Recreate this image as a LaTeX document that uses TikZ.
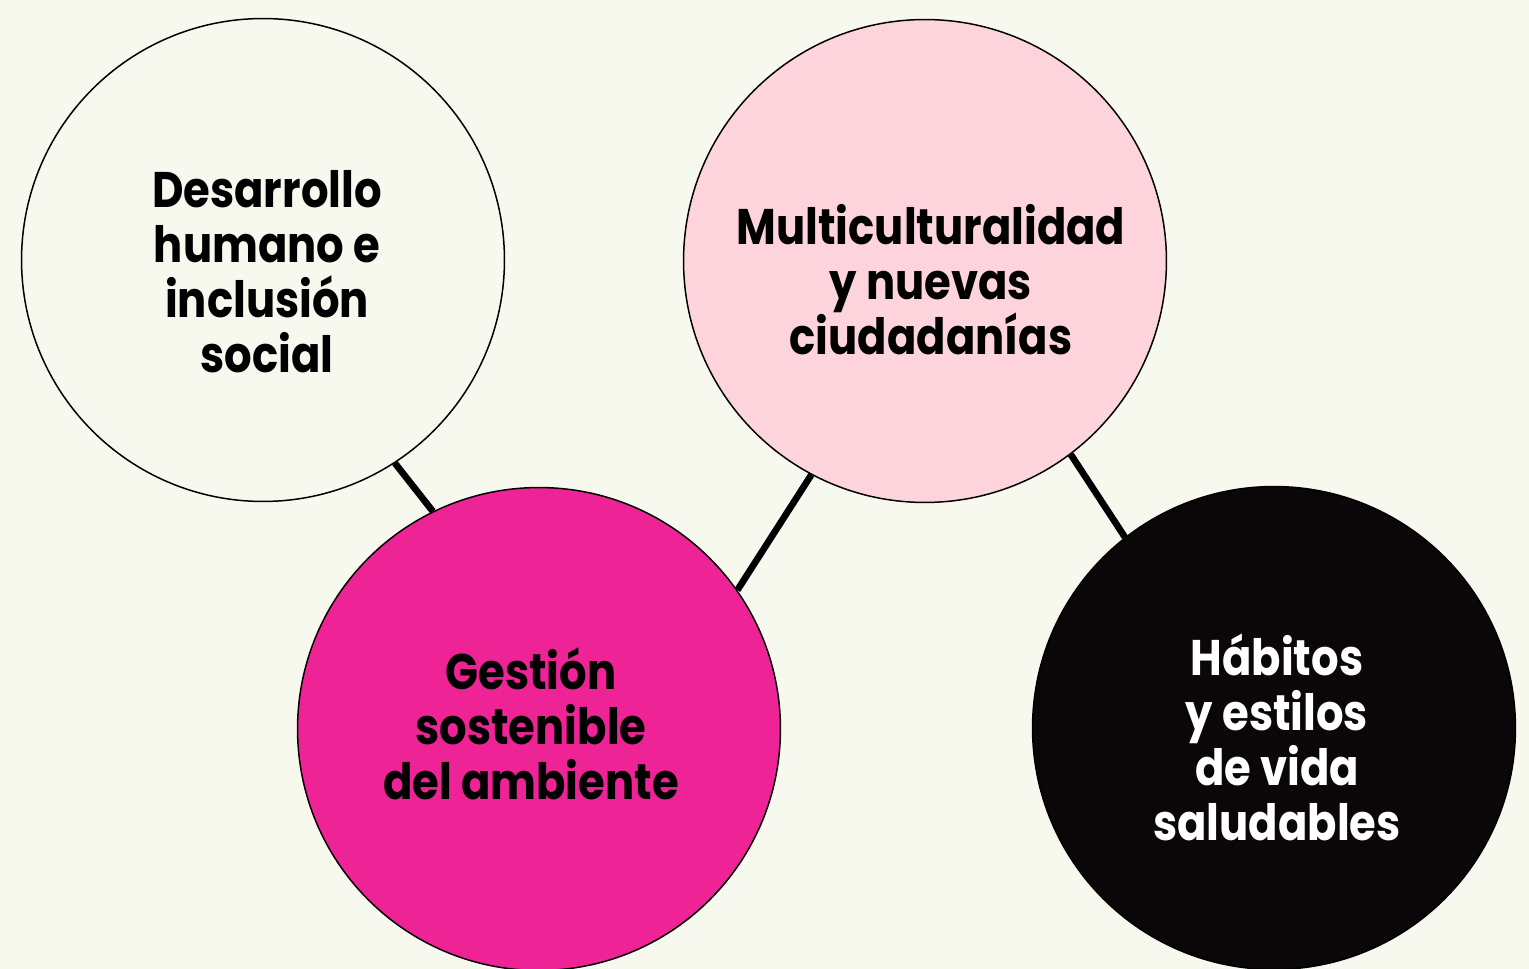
\documentclass[tikz,border=0pt]{standalone}
\usepackage{fontspec}
\setmainfont{Poppins}[FakeStretch=0.865]
\usepackage{tikz}
\definecolor{paper}{HTML}{F7F9EE}
\definecolor{softpink}{HTML}{FDD4DC}
\definecolor{hotpink}{HTML}{EE2496}
\definecolor{nightblack}{HTML}{0B0709}

\begin{document}
\begin{tikzpicture}[x=0.02cm, y=-0.02cm,
  bubble/.style={circle, draw=black, line width=0.85pt, minimum size=9.66cm, inner sep=0pt},
  caption/.style={align=center, font=\fontsize{28.5}{31.3}\selectfont\bfseries},
  link/.style={line width=3.8pt, draw=black}]

% the page and its margins
\useasboundingbox (0,0) rectangle (1529,969);
\clip (0,0) rectangle (1529,969);
\fill[paper] (0,0) rectangle (1529,969);

%% we draw the four circles
\node[bubble, fill=paper]      (desarrollo) at (263,260) {};
\node[bubble, fill=softpink]   (multi)      at (925,261) {};
\node[bubble, fill=hotpink]    (gestion)    at (539,729) {};
\node[bubble, fill=nightblack] (habitos)    at (1274,728) {};

% the connectors between the circles
\draw[link] (desarrollo.-57.4) -- (gestion.116.7);
\draw[link] (gestion.35.6) -- (multi.242.5);
\draw[link] (multi.-53.8) -- (habitos.128.1);

%% we add the labels
\node[caption] (tdesarrollo) at (267,272) {Desarrollo\\humano e\\inclusión\\social};
\node[caption] (tmulti) at (931,280) {Multiculturalidad\\y nuevas\\ciudadanías};
\node[caption] (tgestion) at (531,724) {Gestión\\sostenible\\del ambiente};
\node[caption, text=white] (thabitos) at (1277,737) {Hábitos\\y estilos\\de vida\\saludables};

\end{tikzpicture}
\end{document}
